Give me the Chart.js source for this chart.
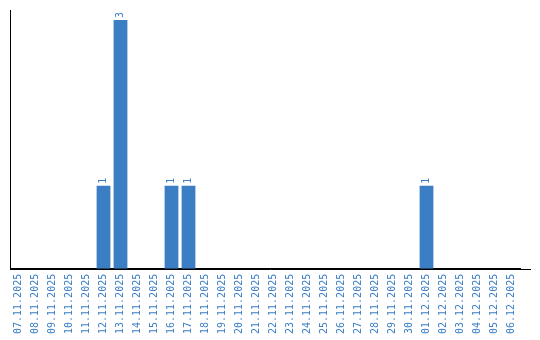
<!DOCTYPE html>
<html>
<head>
<meta charset="utf-8">
<script src="https://cdn.jsdelivr.net/npm/chart.js@4"></script>
<style>
  html, body { margin: 0; padding: 0; background: #fff; }
  #wrap { width: 540px; height: 340px; }
</style>
</head>
<body>
<div id="wrap"><canvas id="grafico"></canvas></div>
<script>
// Datas (categorias) e contagens por dia
const datas = [
    '07.11.2025', '08.11.2025', '09.11.2025', '10.11.2025', '11.11.2025',
    '12.11.2025', '13.11.2025', '14.11.2025', '15.11.2025', '16.11.2025',
    '17.11.2025', '18.11.2025', '19.11.2025', '20.11.2025', '21.11.2025',
    '22.11.2025', '23.11.2025', '24.11.2025', '25.11.2025', '26.11.2025',
    '27.11.2025', '28.11.2025', '29.11.2025', '30.11.2025', '01.12.2025',
    '02.12.2025', '03.12.2025', '04.12.2025', '05.12.2025', '06.12.2025'
];
const contagens = [
    0, 0, 0, 0, 0,
    1, 3, 0, 0, 1,
    1, 0, 0, 0, 0,
    0, 0, 0, 0, 0,
    0, 0, 0, 0, 1,
    0, 0, 0, 0, 0
];

const azul = '#3b7ec4';
const fonte = '"DejaVu Sans Mono", monospace';

// Rótulos de valor girados acima das barras
const rotulosBarras = {
    id: 'rotulosBarras',
    afterDatasetsDraw(chart) {
        const ctx = chart.ctx;
        const meta = chart.getDatasetMeta(0);
        ctx.save();
        ctx.fillStyle = azul;
        ctx.font = '10px ' + fonte;
        ctx.textAlign = 'left';
        ctx.textBaseline = 'middle';
        meta.data.forEach((bar, i) => {
            const v = contagens[i];
            if (!v) return;
            ctx.save();
            ctx.translate(bar.x, bar.y - 2);
            ctx.rotate(-Math.PI / 2);
            ctx.fillText(String(v), 0, 0);
            ctx.restore();
        });
        ctx.restore();
    }
};

// Linha do eixo x um pouco além da área do gráfico
const linhaEixo = {
    id: 'linhaEixo',
    afterDraw(chart) {
        const ctx = chart.ctx;
        const a = chart.chartArea;
        ctx.save();
        ctx.strokeStyle = '#000';
        ctx.lineWidth = 1;
        ctx.beginPath();
        ctx.moveTo(a.left, Math.round(a.bottom) + 0.5);
        ctx.lineTo(531, Math.round(a.bottom) + 0.5);
        ctx.stroke();
        ctx.restore();
    }
};

new Chart(document.getElementById('grafico'), {
    type: 'bar',
    data: {
        labels: datas,
        datasets: [{
            data: contagens,
            backgroundColor: azul,
            borderWidth: 0,
            barPercentage: 0.9,
            categoryPercentage: 0.9
        }]
    },
    options: {
        responsive: true,
        maintainAspectRatio: false,
        animation: false,
        layout: { padding: { left: 2, top: 10, right: 20, bottom: 1 } },
        plugins: {
            legend: { display: false },
            tooltip: { enabled: false }
        },
        scales: {
            x: {
                grid: { display: false, drawTicks: false },
                border: { display: true, color: '#000' },
                ticks: {
                    color: azul,
                    font: { family: fonte, size: 10 },
                    minRotation: 90,
                    maxRotation: 90,
                    autoSkip: false,
                    padding: 5
                }
            },
            y: {
                min: 0,
                max: 3.12,
                grid: { display: false },
                border: { display: true, color: '#000' },
                ticks: { display: false }
            }
        }
    },
    plugins: [rotulosBarras, linhaEixo]
});
</script>
</body>
</html>
